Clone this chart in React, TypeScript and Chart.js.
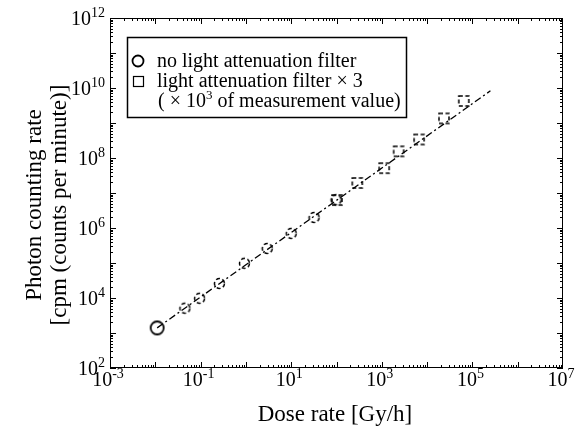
import React, { useEffect, useRef } from "react";
import { Chart, registerables } from "chart.js";

Chart.register(...registerables);

// ---------- data ----------
const circleDose = [0.011, 0.045, 0.095, 0.26, 0.93, 2.96, 10, 32, 98];
const circleRate = [1.4e3, 5.1e3, 9.8e3, 2.6e4, 9.8e4, 2.6e5, 7e5, 2e6, 6.4e6];
const squareDose = [100, 280, 1100, 2300, 6500, 23000, 63000];
const squareRate = [6.5e6, 2e7, 5.3e7, 1.6e8, 3.5e8, 1.4e9, 4.4e9];
const fitDose = [0.011, 2.5e5];
const fitRate = [1.4e3, 8.3e9];

const xTickExps = [-3, -1, 1, 3, 5, 7];
const yTickExps = [2, 4, 6, 8, 10, 12];
const xTitle = "Dose rate [Gy/h]";
const yTitleLines = ["Photon counting rate", "[cpm (counts per minute)]"];
const legendLines = [
  "no light attenuation filter",
  "light attenuation filter \u00d7 3",
  "( \u00d7 10",
  " of measurement value)",
];

const FONT = '"Liberation Serif", "Times New Roman", serif';

function makeMarker(shape: "circle" | "square", size: number, dashed: boolean, lw: number) {
  const c = document.createElement("canvas");
  const s = Math.ceil(size + lw * 2 + 2);
  c.width = s;
  c.height = s;
  const ctx = c.getContext("2d")!;
  ctx.strokeStyle = "#000";
  ctx.lineWidth = lw;
  if (dashed) ctx.setLineDash([4, 2.5]);
  ctx.beginPath();
  if (shape === "circle") ctx.arc(s / 2, s / 2, size / 2, 0, Math.PI * 2);
  else ctx.rect(Math.round(s / 2 - size / 2), Math.round(s / 2 - size / 2), size, size);
  ctx.stroke();
  return c;
}

function drawPow(ctx: CanvasRenderingContext2D, exp: number, x: number, y: number, align: "center" | "right", base = 20, sup = 14) {
  const b = "10";
  const e = String(exp);
  ctx.font = `${base}px ${FONT}`;
  const wb = ctx.measureText(b).width;
  ctx.font = `${sup}px ${FONT}`;
  const we = ctx.measureText(e).width;
  const total = wb + we;
  const start = align === "center" ? x - total / 2 : x - total;
  ctx.textAlign = "left";
  ctx.textBaseline = "alphabetic";
  ctx.font = `${base}px ${FONT}`;
  ctx.fillText(b, start, y);
  ctx.font = `${sup}px ${FONT}`;
  ctx.fillText(e, start + wb, y - 8);
}

const framePlugin = {
  id: "framePlugin",
  afterDraw(chart: any) {
    const ctx: CanvasRenderingContext2D = chart.ctx;
    const { left, right, top, bottom } = chart.chartArea;
    const xs = chart.scales.x;
    const ys = chart.scales.y;
    ctx.save();
    ctx.strokeStyle = "#000";
    ctx.fillStyle = "#000";
    ctx.lineWidth = 1;
    ctx.strokeRect(left + 0.5, top + 0.5, right - left - 1, bottom - top - 1);
    // ticks
    ctx.beginPath();
    for (let e = -3; e < 7; e++) {
      for (let m = 1; m <= 9; m++) {
        const v = m * Math.pow(10, e);
        const px = Math.round(xs.getPixelForValue(v)) + 0.5;
        const len = m === 1 ? 6 : 3;
        ctx.moveTo(px, bottom);
        ctx.lineTo(px, bottom - len);
        ctx.moveTo(px, top);
        ctx.lineTo(px, top + len);
      }
    }
    for (let e = 2; e < 12; e++) {
      for (let m = 1; m <= 9; m++) {
        const v = m * Math.pow(10, e);
        const py = Math.round(ys.getPixelForValue(v)) + 0.5;
        const len = m === 1 ? 6 : 3;
        ctx.moveTo(left, py);
        ctx.lineTo(left + len, py);
        ctx.moveTo(right, py);
        ctx.lineTo(right - len, py);
      }
    }
    ctx.stroke();
    // tick labels
    xTickExps.forEach((e) => {
      const px = xs.getPixelForValue(Math.pow(10, e));
      drawPow(ctx, e, px - 2, bottom + 18, "center");
    });
    yTickExps.forEach((e) => {
      const py = ys.getPixelForValue(Math.pow(10, e));
      drawPow(ctx, e, left - 5, py + 7, "right");
    });
    // axis titles
    ctx.font = `23px ${FONT}`;
    ctx.textAlign = "center";
    ctx.textBaseline = "alphabetic";
    ctx.fillText(xTitle, 335, bottom + 53);
    ctx.save();
    ctx.translate(41, 205);
    ctx.rotate(-Math.PI / 2);
    ctx.fillText(yTitleLines[0], 0, 0);
    ctx.fillText(yTitleLines[1], 0, 25);
    ctx.restore();
    // legend
    const lx = 127, ly = 37, lw = 279, lh = 80;
    ctx.fillStyle = "#fff";
    ctx.fillRect(lx, ly, lw, lh);
    ctx.strokeStyle = "#000";
    ctx.lineWidth = 1.5;
    ctx.strokeRect(lx + 0.5, ly + 0.5, lw, lh);
    ctx.fillStyle = "#000";
    ctx.lineWidth = 1.8;
    ctx.beginPath();
    ctx.arc(138, 61, 5.5, 0, Math.PI * 2);
    ctx.stroke();
    ctx.lineWidth = 1.2;
    ctx.strokeRect(133.5, 76.5, 10, 10);
    ctx.font = `20px ${FONT}`;
    ctx.textAlign = "left";
    ctx.fillText(legendLines[0], 157, 67);
    ctx.fillText(legendLines[1], 157, 87);
    const t3 = legendLines[2];
    ctx.fillText(t3, 158, 107);
    const w3 = ctx.measureText(t3).width;
    ctx.font = `13px ${FONT}`;
    ctx.fillText("3", 158 + w3, 99);
    const w4 = ctx.measureText("3").width;
    ctx.font = `20px ${FONT}`;
    ctx.fillText(legendLines[3], 158 + w3 + w4, 107);
    ctx.restore();
  },
};

export default function App() {
  const ref = useRef<HTMLCanvasElement>(null);
  useEffect(() => {
    document.body.style.margin = "0";
    const bigCircle = makeMarker("circle", 13, false, 1.8);
    const smallCircle = makeMarker("circle", 10, true, 1.5);
    const square = makeMarker("square", 10, true, 1.5);
    const chart = new Chart(ref.current!, {
      type: "scatter",
      data: {
        datasets: [
          {
            label: "fit",
            data: fitDose.map((x, i) => ({ x, y: fitRate[i] })),
            showLine: true,
            borderColor: "#000",
            borderWidth: 1.3,
            borderDash: [7, 3, 2, 3],
            pointRadius: 0,
          },
          {
            label: "no light attenuation filter",
            data: circleDose.map((x, i) => ({ x, y: circleRate[i] })),
            pointStyle: circleDose.map((_, i) => (i === 0 ? bigCircle : smallCircle)) as any,
            showLine: false,
          },
          {
            label: "light attenuation filter ×3",
            data: squareDose.map((x, i) => ({ x, y: squareRate[i] })),
            pointStyle: square as any,
            showLine: false,
          },
        ],
      },
      options: {
        responsive: false,
        animation: false,
        layout: { padding: { left: 110, right: 13, top: 18, bottom: 60 } },
        plugins: { legend: { display: false }, tooltip: { enabled: false } },
        scales: {
          x: { type: "logarithmic", min: 1e-3, max: 1e7, display: false },
          y: { type: "logarithmic", min: 1e2, max: 1e12, display: false },
        },
      },
      plugins: [framePlugin],
    });
    return () => chart.destroy();
  }, []);
  return <canvas ref={ref} width={576} height={428} style={{ display: "block" }} />;
}
